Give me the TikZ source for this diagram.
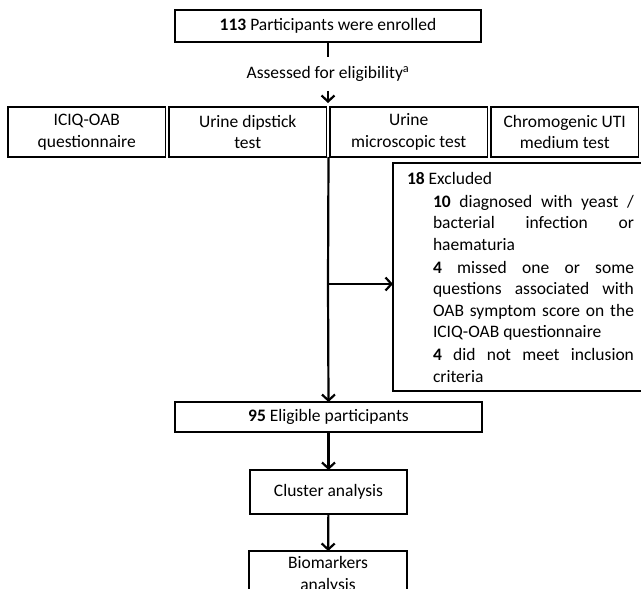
\documentclass[tikz,border=0pt]{standalone}
\usepackage{fontspec}
\setmainfont{Carlito}
\usetikzlibrary{arrows.meta}

\begin{document}
\begin{tikzpicture}[x=1pt,y=-1pt,
    font=\fontsize{17.5pt}{21.5pt}\selectfont,
    box/.style={rectangle,draw,line width=1.6pt,inner sep=0,outer sep=0,align=center},
    rowbox/.style={box,minimum height=50pt,minimum width=157.5pt,anchor=west},
    arr/.style={line width=2.2pt,-{Straight Barb[length=6pt,width=13pt]}}]
    \clip (0,0) rectangle (641,589);
    \draw
    (328,26)node[box, minimum height=32pt, minimum width=306pt](top){\textbf{113} Participants were enrolled}
    (328,74)node[inner xsep=0, inner ysep=9pt](chk){Assessed for eligibility\textsuperscript{a}}
    (8,132)node[rowbox](q){ICIQ-OAB\\questionnaire}
    (q.east)node[rowbox, xshift=3.5pt](d){Urine dipstick\\test}
    (d.east)node[rowbox, xshift=3.5pt](m){Urine\\microscopic test}
    (m.east)node[rowbox, xshift=3.5pt, minimum width=147.5pt](u){Chromogenic UTI\\medium test}
    (393,163)node[box, anchor=north west, minimum height=228pt, text width=227pt, inner xsep=14pt, align=justify](ex){%
        \parskip=1.5pt\hyphenpenalty=10000\exhyphenpenalty=10000
        \textbf{18} Excluded\par
        {\leftskip=26pt
        \textbf{10} diagnosed with yeast~/ bacterial infection or haematuria\par
        \textbf{4} missed one or some questions associated with OAB symptom score on the ICIQ-OAB questionnaire\par
        \textbf{4} did not meet inclusion criteria\par}\vspace{4pt}}
    (328.5,417)node[box, minimum height=30pt, minimum width=307pt](elig){\textbf{95} Eligible participants}
    (328.5,492)node[box, minimum height=44pt, minimum width=157pt](cl){Cluster analysis}
    (328,575)node[box, minimum height=48pt, minimum width=158pt](bio){Biomarkers\\analysis}
    (328,103)coordinate(rowtop)
    (328,284)coordinate(branch)
    ;
    \draw[line width=2.2pt] (top) -- (chk);
    \draw[arr] (chk) -- (rowtop);
    \draw[line width=2.2pt] (elig.north |- m.south) -- (branch);
    \draw[arr] (branch) -- (elig.north);
    \draw[arr] (branch) -- (branch -| ex.west);
    \draw[arr] (elig) -- (cl);
    \draw[arr] (cl) -- (bio);
\end{tikzpicture}
\end{document}
